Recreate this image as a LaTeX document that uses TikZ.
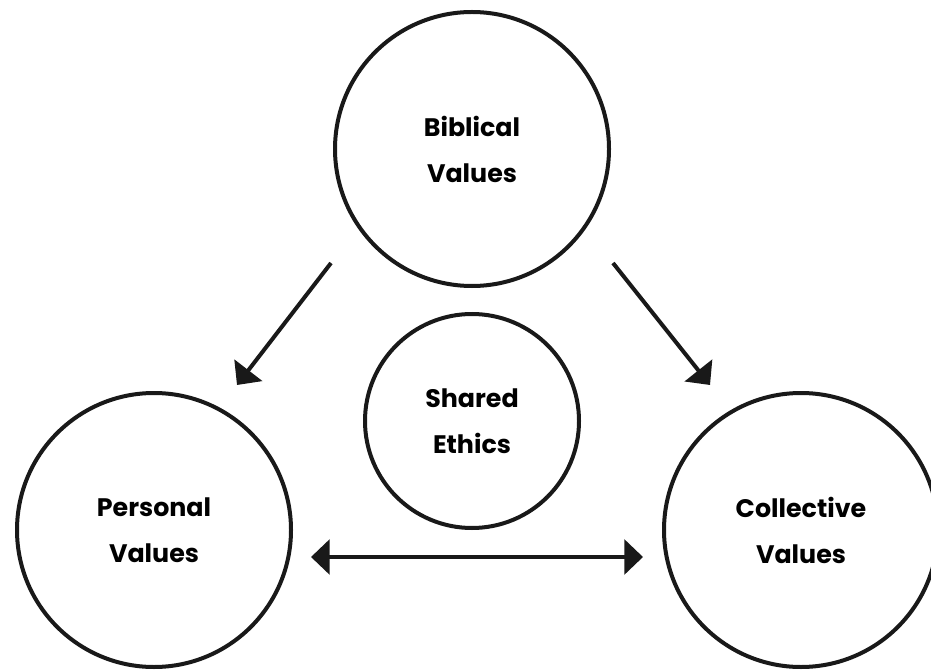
\documentclass[tikz,border=0pt]{standalone}
\usepackage{fontspec}
\setmainfont{Poppins}
\usetikzlibrary{arrows.meta}
\begin{document}
\begin{tikzpicture}[x=0.75pt,y=-0.75pt,
  valcircle/.style={circle,draw=black!90,line width=3pt,inner sep=0pt,align=center,
    font=\fontsize{19}{34.5}\selectfont\bfseries},
  conn/.style={line width=3pt,draw=black!90,-{Triangle[length=14pt,width=26pt]}},
  conn2/.style={line width=3pt,draw=black!90,{Triangle[length=14pt,width=26pt]}-{Triangle[length=14pt,width=26pt]}}]
\useasboundingbox (0,0) rectangle (931,670);
\node[valcircle,minimum size=205.5pt] (bib) at (472,149) {Biblical\\Values};
\node[valcircle,minimum size=205.5pt] (pers) at (154,530) {Personal\\Values};
\node[valcircle,minimum size=205.5pt] (coll) at (801,530) {Collective\\Values};
\node[valcircle,minimum size=160.5pt] (shared) at (472,421) {Shared\\Ethics};
\coordinate (l1) at (331,263);
\coordinate (l2) at (237,385);
\coordinate (r1) at (613,263);
\coordinate (r2) at (710,385);
\coordinate (h1) at (311,557);
\coordinate (h2) at (643,557);
\draw[conn] (l1) -- (l2);
\draw[conn] (r1) -- (r2);
\draw[conn2] (h1) -- (h2);
\end{tikzpicture}
\end{document}
